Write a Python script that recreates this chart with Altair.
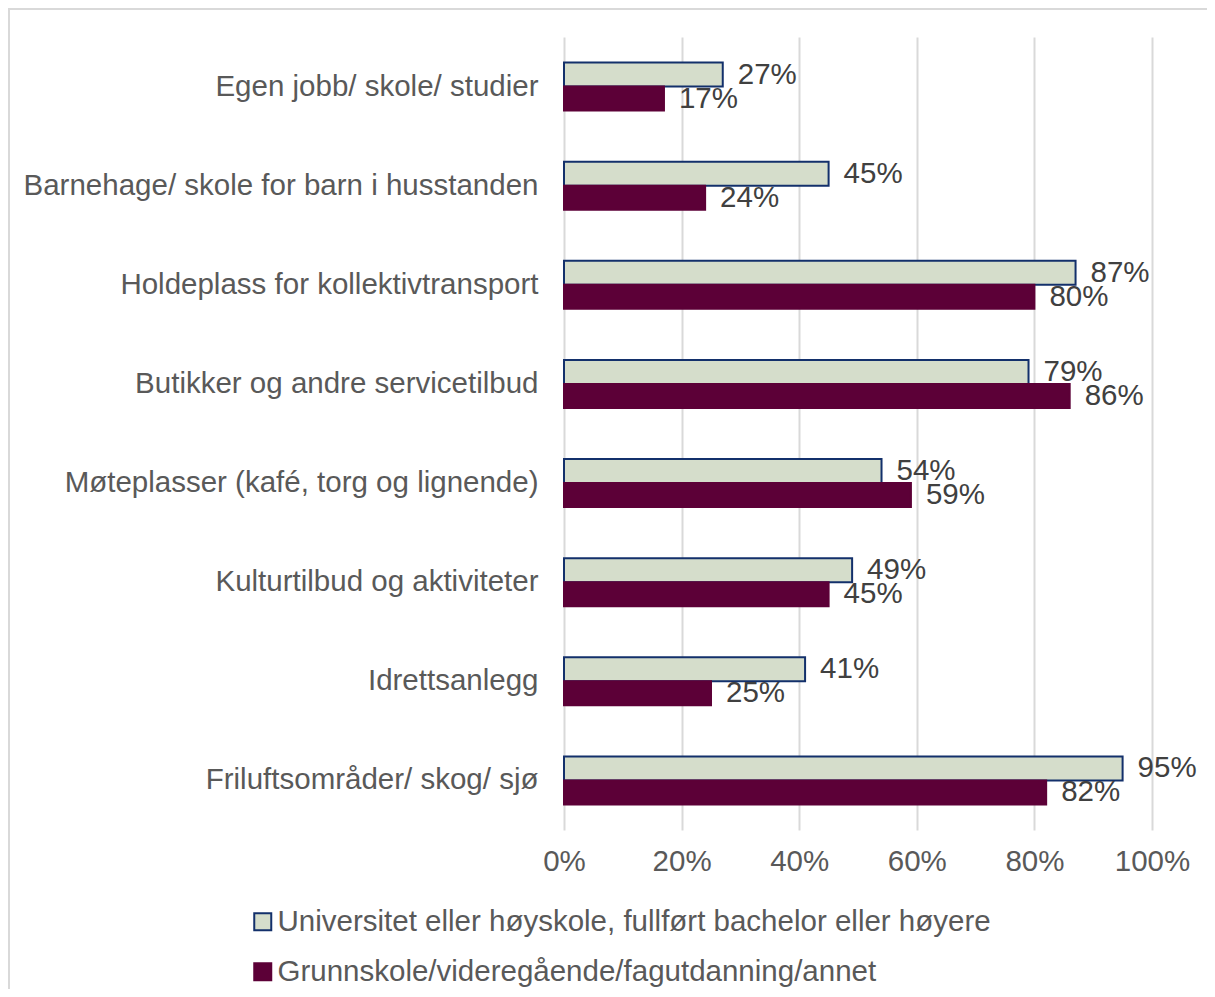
import altair as alt
import pandas as pd

categories = [
    "Egen jobb/ skole/ studier",
    "Barnehage/ skole for barn i husstanden",
    "Holdeplass for kollektivtransport",
    "Butikker og andre servicetilbud",
    "Møteplasser (kafé, torg og lignende)",
    "Kulturtilbud og aktiviteter\u00a0",
    "Idrettsanlegg",
    "Friluftsområder/ skog/ sjø",
]
series = [
    "Universitet eller høyskole, fullført bachelor eller høyere",
    "Grunnskole/videregående/fagutdanning/annet",
]
uni_values = [0.27, 0.45, 0.87, 0.79, 0.54, 0.49, 0.41, 0.95]
grunn_values = [0.17, 0.24, 0.80, 0.86, 0.59, 0.45, 0.25, 0.82]
x_ticks = [0, 0.2, 0.4, 0.6, 0.8, 1.0]

rows = []
for c, u, g in zip(categories, uni_values, grunn_values):
    rows.append({"kategori": c, "gruppe": series[0], "andel": u})
    rows.append({"kategori": c, "gruppe": series[1], "andel": g})
df = pd.DataFrame(rows)

FONT = "Liberation Sans"
FS = 29.5
W, H = 588, 793

y_enc = alt.Y(
    "kategori:N",
    sort=categories,
    scale=alt.Scale(paddingInner=0.515, paddingOuter=0.2575),
    axis=alt.Axis(
        title=None, domain=False, ticks=False, grid=False,
        labelFontSize=FS, labelColor="#595959", labelFont=FONT,
        labelPadding=26, labelLimit=700,
    ),
)
yoff = alt.YOffset("gruppe:N", sort=series)
x_enc = alt.X(
    "andel:Q",
    scale=alt.Scale(domain=[0, 1], nice=False),
    axis=alt.Axis(
        title=None, values=x_ticks, format=".0%", domain=False, ticks=False,
        grid=True, gridColor="#D9D9D9", gridWidth=2,
        labelFontSize=FS, labelColor="#595959", labelFont=FONT,
        labelPadding=17, labelFlush=False,
    ),
)

legend = alt.Legend(
    title=None, orient="none", legendX=-316, legendY=870,
    direction="vertical", symbolType="square", symbolSize=289,
    symbolStrokeWidth=2, labelFontSize=FS, labelColor="#595959",
    labelFont=FONT, rowPadding=19, labelOffset=0, labelLimit=900,
)

bars = alt.Chart(df).mark_bar(strokeWidth=2).encode(
    y=y_enc,
    yOffset=yoff,
    x=x_enc,
    fill=alt.Fill(
        "gruppe:N", sort=series,
        scale=alt.Scale(domain=series, range=["#D5DDCB", "#5C0037"]),
        legend=legend,
    ),
    stroke=alt.Stroke(
        "gruppe:N", sort=series,
        scale=alt.Scale(domain=series, range=["#13306B", "#5C0037"]),
        legend=legend,
    ),
)

labels = alt.Chart(df).mark_text(
    align="left", baseline="middle", dx=15, fontSize=FS, font=FONT, color="#404040"
).encode(
    y=alt.Y("kategori:N", sort=categories),
    yOffset=yoff,
    x=alt.X("andel:Q"),
    text=alt.Text("andel:Q", format=".0%"),
)

frame_top = alt.Chart(df).mark_rule(color="#D9D9D9", strokeWidth=2).encode(
    x=alt.value(-556), x2=alt.value(660), y=alt.value(-28)
)
frame_left = alt.Chart(df).mark_rule(color="#D9D9D9", strokeWidth=2).encode(
    x=alt.value(-555), y=alt.value(-29), y2=alt.value(960)
)

chart = alt.layer(frame_top, frame_left, bars, labels).properties(
    width=W, height=H,
    autosize=alt.AutoSizeParams(type="none"),
    padding={"left": 556, "top": 29, "right": 55, "bottom": 159},
).configure_view(stroke=None)

chart.save("out.html", embed_options={"renderer": "svg", "actions": False})
